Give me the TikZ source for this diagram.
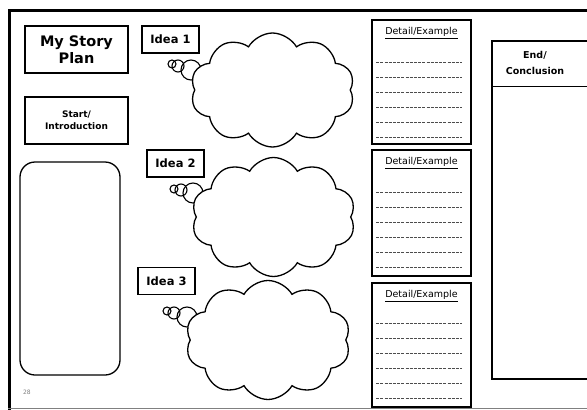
\documentclass[tikz,border=0pt]{standalone}
\usepackage{fontspec}
\setmainfont{DejaVu Sans}
\usetikzlibrary{shapes.symbols,calc}

\begin{document}
\begin{tikzpicture}[
  x=1pt, y=-1pt,
  box/.style={draw, line width=1.4pt, minimum width=103pt, minimum height=47pt, align=center, inner sep=0pt},
  ideabox/.style={draw, line width=1.2pt, minimum width=57pt, minimum height=27pt, font=\bfseries\fontsize{11.5}{13}\selectfont},
  detailbox/.style={draw, line width=1.8pt, minimum width=99pt, anchor=north},
  thought/.style={cloud, draw, fill=white, line width=1.3pt, cloud puffs=10, cloud puff arc=120, cloud ignores aspect},
  bubble/.style={circle, draw, line width=1.1pt, inner sep=0pt},
  dashline/.style={black!70, line width=0.6pt, dash pattern=on 3pt off 1.2pt}
]
  \useasboundingbox (0,0) rectangle (587,410);
  \clip (0,0) rectangle (587,410);

  % Page frame
  \draw[line width=3.5pt] (9.5,600) -- (9.5,10.5) -- (700,10.5);
  \draw[gray, line width=1pt] (8,408.5) -- (700,408.5);

  % Title
  \node[box, font=\bfseries\fontsize{14.5}{17}\selectfont] (title) at (76.5,49.5) {My Story\\Plan};

  % Start
  \node[box, font=\bfseries\fontsize{9}{12}\selectfont] (start) at (76.5,120.5) {Start/\\Introduction};
  \node[draw, line width=1.3pt, rounded corners=15pt, minimum width=100pt, minimum height=213pt] (intro) at (70,268.5) {};
  \node[gray, font=\fontsize{6}{7}\selectfont] (page) at (27,392) {28};

  % Ideas
  \node[ideabox] (idea1) at (170.5,39.5) {Idea 1};
  \node[ideabox] (idea2) at (175.5,163.5) {Idea 2};
  \node[ideabox] (idea3) at (166.5,281) {Idea 3};

  % Thought bubbles
  \node[bubble, minimum size=8pt] (s1) at (172,64) {};
  \node[bubble, minimum size=12pt] (m1) at (178,66) {};
  \node[bubble, minimum size=20pt] (b1) at (191,70) {};
  \node[thought, minimum width=164pt, minimum height=114pt] (cloud1) at (272.5,90) {};

  \node[bubble, minimum size=8pt] (s2) at (174,189) {};
  \node[bubble, minimum size=12pt] (m2) at (181,190) {};
  \node[bubble, minimum size=20pt] (b2) at (193,193) {};
  \node[thought, minimum width=164pt, minimum height=119pt] (cloud2) at (273.5,217) {};

  \node[bubble, minimum size=8pt] (s3) at (167,311) {};
  \node[bubble, minimum size=12pt] (m3) at (174,313) {};
  \node[bubble, minimum size=20pt] (b3) at (187,317) {};
  \node[thought, minimum width=165pt, minimum height=119pt] (cloud3) at (268,340) {};

  % Details
  \node[detailbox, minimum height=124pt] (d1) at (421.5,19) {};
  \node[detailbox, minimum height=126pt] (d2) at (421.5,149) {};
  \node[detailbox, minimum height=124pt] (d3) at (421.5,282) {};
  \foreach \d/\o in {d1/43, d2/43, d3/41} {
    \node[anchor=north, font=\fontsize{9.5}{12}\selectfont] (\d head) at ($(\d.north)+(0,5)$) {\underline{Detail/Example}};
    \foreach \i in {0,...,5}
      \draw[dashline] ($(\d.north west)+(5,\o+15*\i)$) -- ++(86,0);
  }

  % End
  \draw[line width=1.5pt] (700,41) -- (492,41) -- (492,379) -- (700,379);
  \draw[line width=0.8pt] (492,86) -- (700,86);
  \node[align=center, font=\bfseries\fontsize{9.5}{16}\selectfont] (concl) at (535,63) {End/\\Conclusion};
\end{tikzpicture}
\end{document}
